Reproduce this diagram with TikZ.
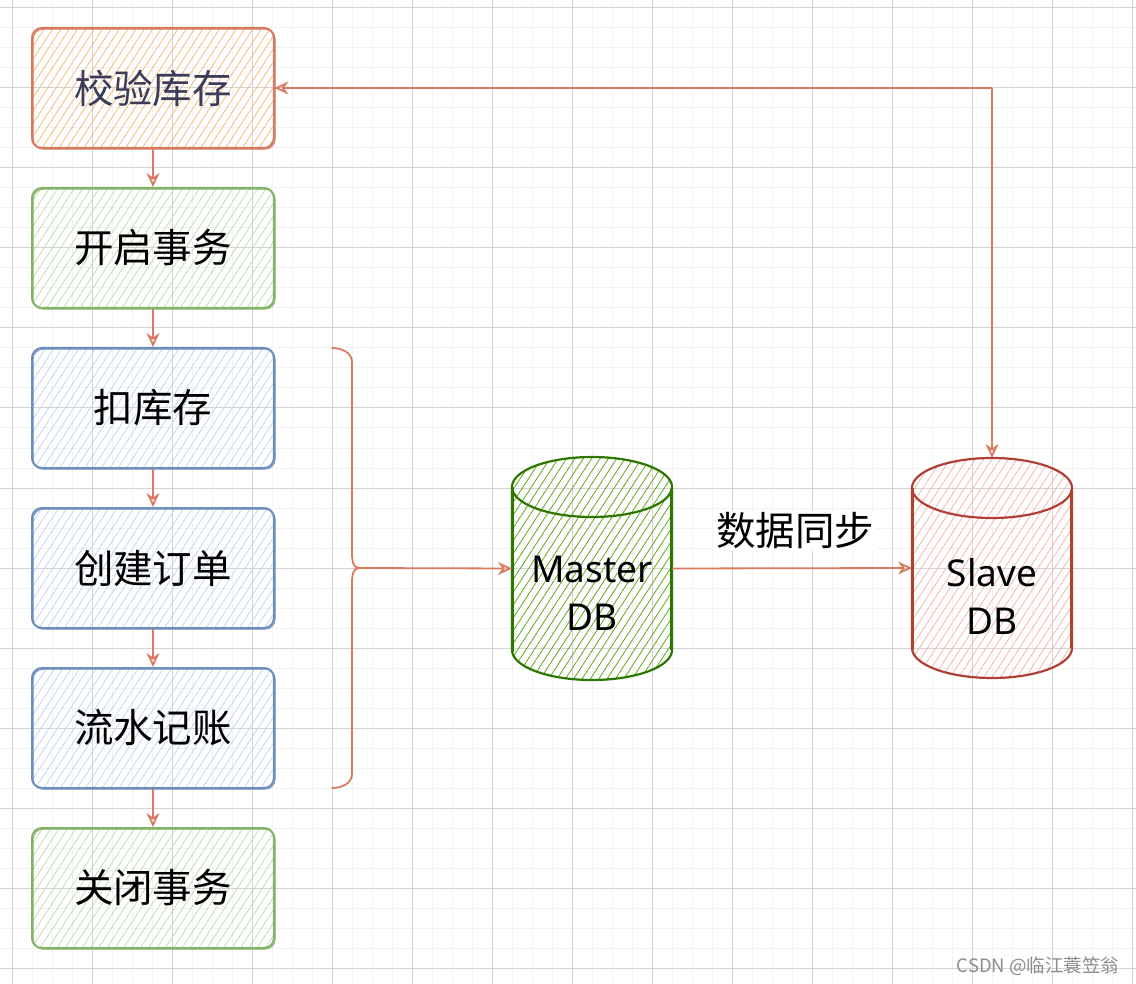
\documentclass[tikz,border=0pt]{standalone}
\usepackage{fontspec}
\setmainfont{Noto Sans}
\newfontfamily\cjk{Noto Sans CJK SC}
\usetikzlibrary{arrows.meta,patterns.meta}
\definecolor{edgec}{RGB}{218,122,96}
\definecolor{orstroke}{RGB}{214,121,95}
\definecolor{orhatch}{RGB}{242,190,120}
\definecolor{grstroke}{RGB}{130,179,102}
\definecolor{grhatch}{RGB}{195,222,182}
\definecolor{blstroke}{RGB}{108,142,191}
\definecolor{blhatch}{RGB}{194,214,246}
\definecolor{mastroke}{RGB}{45,118,0}
\definecolor{mahatch}{RGB}{96,169,23}
\definecolor{slstroke}{RGB}{174,65,50}
\definecolor{slhatch}{RGB}{242,184,180}
\definecolor{gridminor}{RGB}{242,242,242}
\definecolor{gridmajor}{RGB}{212,212,212}
\definecolor{slate}{RGB}{60,60,88}
\tikzset{
  box/.style={draw, rounded corners=10pt, line width=2pt, minimum width=242pt, minimum height=120pt, inner sep=0pt,
    font=\cjk\fontsize{39.5}{42}\selectfont, text=black,
    postaction={draw, line width=0.8pt, transform canvas={shift={(1.2pt,-1.2pt)}}}},
  hatch/.style={pattern={Lines[angle=57,distance=7pt,line width=0.8pt]}, pattern color=#1},
  orbox/.style={box, draw=orstroke, hatch=orhatch, text=slate},
  grbox/.style={box, draw=grstroke, hatch=grhatch},
  blbox/.style={box, draw=blstroke, hatch=blhatch},
  edge/.style={draw=edgec, line width=1.8pt, -{Stealth[open,length=14pt,width=13pt,line width=1.8pt]}},
  cyltext/.style={align=center, font=\fontsize{37}{48}\selectfont, text=black},
  anchorbox/.style={inner sep=0pt, outer sep=0pt}
}
\newcommand{\drawcyl}[7]{% cx, top, bottom, rx, ry, stroke, hatch
  \path[hatch=#7] ({#1-#4},{#2+#5}) arc[start angle=180,end angle=360,x radius=#4,y radius=#5]
     -- ({#1+#4},{#3-#5}) arc[start angle=0,end angle=180,x radius=#4,y radius=#5] -- cycle;
  \draw[#6, line width=2.2pt] (#1,{#2+#5}) ellipse[x radius=#4, y radius=#5];
  \draw[#6, line width=2.2pt] ({#1-#4},{#2+#5}) -- ({#1-#4},{#3-#5})
     arc[start angle=180,end angle=0,x radius=#4,y radius=#5] -- ({#1+#4},{#2+#5});
  \draw[#6, line width=0.9pt] ({#1-#4+1.5},{#2+#5}) -- ({#1-#4+1.5},{#3-#5+1.5});
  \draw[#6, line width=0.9pt] ({#1+#4-1.5},{#2+#5+2}) -- ({#1+#4-1.5},{#3-#5});
}
\begin{document}
\begin{tikzpicture}[x=1pt,y=-1pt]
\useasboundingbox (0,0) rectangle (1136,984);
\fill[white] (0,0) rectangle (1136,984);
% grid
\foreach \x in {12,32,...,1132} \draw[gridminor, line width=1pt] (\x,0) -- (\x,984);
\foreach \y in {8,28,...,984} \draw[gridminor, line width=1pt] (0,\y) -- (1136,\y);
\foreach \x in {12,92,...,1132} \draw[gridmajor, line width=1pt] (\x,0) -- (\x,984);
\foreach \y in {8,88,...,984} \draw[gridmajor, line width=1pt] (0,\y) -- (1136,\y);

% boxes
\node[orbox] (b1) at (153,88) {校验库存};
\node[grbox] (b2) at (153,248) {开启事务};
\node[blbox] (b3) at (153,408) {扣库存};
\node[blbox] (b4) at (153,568) {创建订单};
\node[blbox] (b5) at (153,728) {流水记账};
\node[grbox] (b6) at (153,888) {关闭事务};

\draw[edge] (b1) -- (b2);
\draw[edge] (b2) -- (b3);
\draw[edge] (b3) -- (b4);
\draw[edge] (b4) -- (b5);
\draw[edge] (b5) -- (b6);

% cylinders
\drawcyl{592}{457}{680}{80}{30}{mastroke}{mahatch}
\drawcyl{992}{458}{678}{80}{30}{slstroke}{slhatch}
\node[anchorbox, minimum width=160pt, minimum height=223pt] (master) at (592,568.5) {};
\node[anchorbox, minimum width=160pt, minimum height=220pt] (slave) at (992,568) {};
\node[cyltext] (mastertext) at (592,593) {Master\\DB};
\node[cyltext] (slavetext) at (992,596) {Slave\\DB};

% brace
\draw[edgec, line width=1.8pt, line cap=round, line join=round]
  (332,348) to[out=0,in=90] (352,362) -- (352,554) to[out=-90,in=180] (359,568)
  to[out=180,in=90] (352,582) -- (352,774) to[out=-90,in=0] (332,788);
\coordinate (bt) at (359,568);
\draw[edge] (bt) -- (master.west);

% sync
\draw[edge] (master.east) -- (slave.west);
\node[fill=white, inner sep=2pt, font=\cjk\fontsize{39.5}{42}\selectfont] (sync) at (795,531) {数据同步};

% read from slave
\coordinate (corner) at (992,88);
\draw[edge] (corner) -- (b1.east);
\draw[edge] (corner) -- (slave.north);

% watermark
\node[font=\cjk\fontsize{18.5}{20}\selectfont, text=black!45, anchor=east] (wm) at (1123,966) {CSDN @临江蓑笠翁};
\end{tikzpicture}
\end{document}
